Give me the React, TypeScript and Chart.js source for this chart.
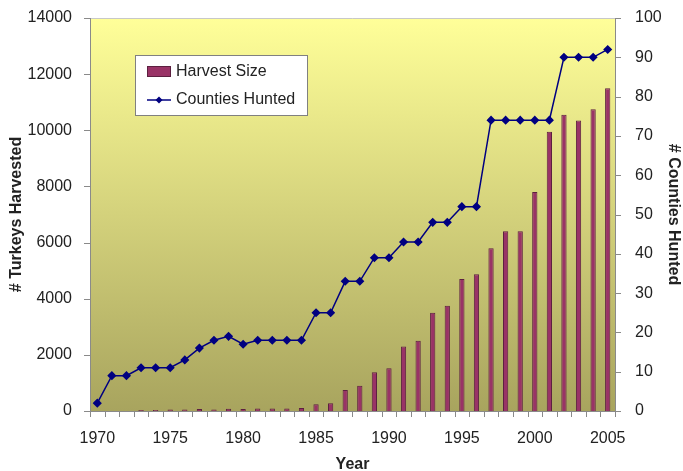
import React, { useEffect, useRef } from "react";
import { Chart, registerables } from "chart.js";

Chart.register(...registerables);

const years: string[] = [];
for (let y = 1970; y <= 2005; y++) years.push(String(y));

const harvestSize = [
  0, 0, 0, 40, 40, 50, 50, 70, 50, 80,
  70, 90, 90, 90, 110, 240, 280, 750, 900, 1380,
  1520, 2300, 2500, 3500, 3750, 4700, 4870, 5800, 6400, 6400,
  7800, 9950, 10550, 10350, 10750, 11500,
];

const countiesHunted = [
  2, 9, 9, 11, 11, 11, 13, 16, 18, 19,
  17, 18, 18, 18, 18, 25, 25, 33, 33, 39,
  39, 43, 43, 48, 48, 52, 52, 74, 74, 74,
  74, 74, 90, 90, 90, 92,
];

const FONT = "'Liberation Sans', Arial, sans-serif";
const TEXT = "#222";
const AXIS = "#8a8a8a";
const TICK = 6;

const bgPlugin = {
  id: "plotBg",
  beforeDraw(chart: any) {
    const { ctx, chartArea } = chart;
    if (!chartArea) return;
    const { left, top, right, bottom } = chartArea;
    const g = ctx.createLinearGradient(0, top, 0, bottom);
    g.addColorStop(0, "#ffff99");
    g.addColorStop(1, "#a8a45e");
    ctx.save();
    ctx.fillStyle = g;
    ctx.fillRect(left, top, right - left, bottom - top);
    ctx.strokeStyle = "#c8c8c8";
    ctx.lineWidth = 1;
    ctx.beginPath();
    ctx.moveTo(left, top + 0.5);
    ctx.lineTo(right, top + 0.5);
    ctx.stroke();
    ctx.restore();
  },
};

const tickPlugin = {
  id: "tickMarks",
  afterDraw(chart: any) {
    const { ctx, chartArea, scales } = chart;
    const { left, right, bottom } = chartArea;
    ctx.save();
    ctx.strokeStyle = AXIS;
    ctx.lineWidth = 1;
    ctx.beginPath();
    scales.y.ticks.forEach((t: any) => {
      const py = Math.round(scales.y.getPixelForValue(t.value)) + 0.5;
      ctx.moveTo(left - TICK, py);
      ctx.lineTo(left, py);
    });
    scales.y1.ticks.forEach((t: any) => {
      const py = Math.round(scales.y1.getPixelForValue(t.value)) + 0.5;
      ctx.moveTo(right, py);
      ctx.lineTo(right + TICK, py);
    });
    const n = years.length;
    const half = (scales.x.getPixelForValue(1) - scales.x.getPixelForValue(0)) / 2;
    for (let i = 0; i <= n; i++) {
      const px = Math.round(scales.x.getPixelForValue(i) - half) + 0.5;
      ctx.moveTo(px, bottom);
      ctx.lineTo(px, bottom + TICK);
    }
    ctx.stroke();
    ctx.restore();
  },
};

const legendPlugin = {
  id: "innerLegend",
  afterDraw(chart: any) {
    const { ctx } = chart;
    const ds = chart.data.datasets;
    const x = 135, y = 55, w = 172, h = 60;
    ctx.save();
    ctx.fillStyle = "#ffffff";
    ctx.fillRect(x, y, w, h);
    ctx.strokeStyle = "#808080";
    ctx.lineWidth = 1;
    ctx.strokeRect(x + 0.5, y + 0.5, w, h);
    ctx.font = `16px ${FONT}`;
    ctx.textBaseline = "middle";
    const bar = ds[0];
    ctx.fillStyle = bar.backgroundColor;
    ctx.fillRect(147, 66, 24, 11);
    ctx.strokeStyle = bar.borderColor;
    ctx.strokeRect(147.5, 66.5, 23, 10);
    ctx.fillStyle = TEXT;
    ctx.fillText(bar.label, 176, 72);
    const line = ds[1];
    ctx.strokeStyle = line.borderColor;
    ctx.lineWidth = 1.5;
    ctx.beginPath();
    ctx.moveTo(147, 100);
    ctx.lineTo(171, 100);
    ctx.stroke();
    ctx.fillStyle = line.borderColor;
    ctx.beginPath();
    ctx.moveTo(159, 96.5);
    ctx.lineTo(162.5, 100);
    ctx.lineTo(159, 103.5);
    ctx.lineTo(155.5, 100);
    ctx.closePath();
    ctx.fill();
    ctx.fillStyle = TEXT;
    ctx.fillText(line.label, 176, 100);
    ctx.restore();
  },
};

export default function App() {
  const ref = useRef<HTMLCanvasElement | null>(null);
  useEffect(() => {
    if (!ref.current) return;
    const chart = new Chart(ref.current, {
      type: "bar",
      data: {
        labels: years,
        datasets: [
          {
            type: "bar",
            label: "Harvest Size",
            data: harvestSize,
            backgroundColor: "#993366",
            borderColor: "#5c2040",
            borderWidth: 1,
            barPercentage: 0.36,
            categoryPercentage: 1,
            yAxisID: "y",
            order: 2,
          },
          {
            type: "line",
            label: "Counties Hunted",
            data: countiesHunted,
            borderColor: "#000080",
            backgroundColor: "#000080",
            borderWidth: 1.5,
            pointStyle: "rectRot",
            pointRadius: 3.5,
            pointBackgroundColor: "#000080",
            pointBorderColor: "#000080",
            tension: 0,
            yAxisID: "y1",
            order: 1,
          } as any,
        ],
      },
      options: {
        animation: false,
        responsive: false,
        maintainAspectRatio: false,
        layout: { padding: { top: 18, left: 0, right: 0, bottom: 0 } },
        plugins: { legend: { display: false }, tooltip: { enabled: false } },
        scales: {
          x: {
            type: "category",
            offset: true,
            grid: { display: false, offset: true, tickLength: TICK },
            border: { display: true, color: AXIS, width: 1 },
            ticks: {
              autoSkip: false,
              maxRotation: 0,
              minRotation: 0,
              padding: 12,
              color: TEXT,
              font: { family: FONT, size: 16 },
              callback: (_v: any, i: number) =>
                Number(years[i]) % 5 === 0 ? years[i] : "",
            },
            title: {
              display: true,
              text: "Year",
              color: TEXT,
              font: { family: FONT, size: 16, weight: "bold" },
              padding: { top: 0, bottom: -3 },
            },
            afterFit: (s: any) => {
              s.height = 60;
              s.paddingLeft = 0;
              s.paddingRight = 0;
            },
          },
          y: {
            position: "left",
            min: 0,
            max: 14000,
            ticks: {
              stepSize: 2000,
              padding: 12,
              color: TEXT,
              font: { family: FONT, size: 16 },
              callback: (v: any) => String(v),
            },
            grid: { display: false, tickLength: TICK },
            border: { display: true, color: AXIS, width: 1 },
            title: {
              display: true,
              text: "# Turkeys Harvested",
              color: TEXT,
              font: { family: FONT, size: 16, weight: "bold" },
              padding: { top: 7, bottom: 0 },
            },
            afterFit: (s: any) => {
              s.width = 90;
              s.paddingTop = 0;
              s.paddingBottom = 0;
            },
          },
          y1: {
            position: "right",
            min: 0,
            max: 100,
            ticks: {
              stepSize: 10,
              padding: 14,
              color: TEXT,
              font: { family: FONT, size: 16 },
              callback: (v: any) => String(v),
            },
            grid: { display: false, tickLength: TICK },
            border: { display: true, color: AXIS, width: 1 },
            title: {
              display: true,
              text: "# Counties Hunted",
              color: TEXT,
              font: { family: FONT, size: 16, weight: "bold" },
              padding: { top: 0, bottom: 0 },
            },
            afterFit: (s: any) => {
              s.width = 68;
              s.paddingTop = 0;
              s.paddingBottom = 0;
            },
          },
        },
      },
      plugins: [bgPlugin, tickPlugin, legendPlugin],
    });
    return () => chart.destroy();
  }, []);
  return (
    <div style={{ position: "absolute", left: 0, top: 0, width: 683, height: 471, background: "#fff" }}>
      <canvas ref={ref} width={683} height={471} style={{ width: 683, height: 471 }} />
    </div>
  );
}
